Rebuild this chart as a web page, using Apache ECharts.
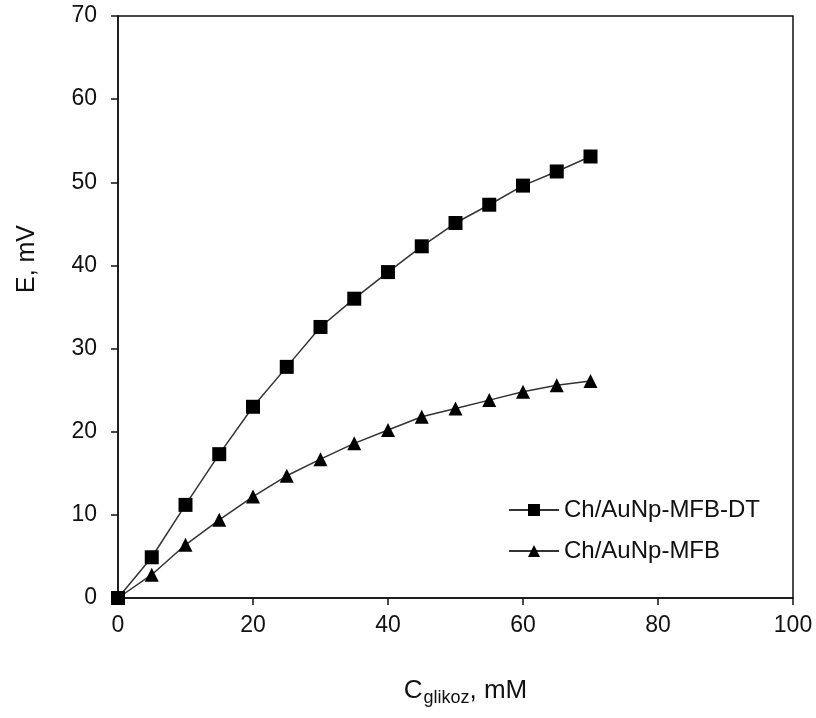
<!DOCTYPE html>
<html>
<head>
<meta charset="utf-8">
<script src="https://cdn.jsdelivr.net/npm/echarts@6/dist/echarts.min.js"></script>
<style>html,body{margin:0;padding:0;background:#fff}#c{width:816px;height:718px}</style>
</head>
<body>
<div id="c"></div>
<script>
const concentrations = [0, 5, 10, 15, 20, 25, 30, 35, 40, 45, 50, 55, 60, 65, 70];
const seriesDT = [0, 4.9, 11.2, 17.3, 23.0, 27.8, 32.6, 36.0, 39.2, 42.3, 45.1, 47.3, 49.6, 51.3, 53.1];
const seriesMFB = [0, 2.8, 6.4, 9.4, 12.2, 14.7, 16.7, 18.6, 20.2, 21.8, 22.8, 23.8, 24.8, 25.6, 26.1];
const nameDT = 'Ch/AuNp-MFB-DT';
const nameMFB = 'Ch/AuNp-MFB';

const font = '"Liberation Sans", Arial, sans-serif';
const pair = (xs, ys) => xs.map((x, i) => [x, ys[i]]);

const chart = echarts.init(document.getElementById('c'), null, {renderer: 'canvas'});
chart.setOption({
  animation: false,
  backgroundColor: '#fff',
  textStyle: {fontFamily: font},
  grid: {left: 118, right: 23, top: 16, bottom: 120, show: true, borderColor: '#111', borderWidth: 1.5, backgroundColor: 'transparent'},
  legend: {
    orient: 'vertical',
    left: 503,
    top: 493,
    itemWidth: 50,
    itemHeight: 15,
    itemGap: 17,
    textStyle: {fontSize: 24, color: '#111', fontFamily: font},
    data: [nameDT, nameMFB]
  },
  xAxis: {
    type: 'value', min: 0, max: 100, interval: 20,
    axisLine: {show: true, onZero: false, lineStyle: {color: '#111', width: 1.5}},
    axisTick: {show: true, inside: false, length: 7, lineStyle: {color: '#111', width: 1.5}},
    axisLabel: {fontSize: 23, color: '#111', margin: 16, fontFamily: font},
    splitLine: {show: false},
    name: '{a|C}{s|glikoz}{a|, mM}',
    nameLocation: 'middle',
    nameGap: 77,
    nameTextStyle: {
      padding: [0, 0, 0, 20],
      rich: {
        a: {fontSize: 26, color: '#111', fontFamily: font},
        s: {fontSize: 18, color: '#111', fontFamily: font, verticalAlign: 'bottom', padding: [14, 0, 0, 1]}
      }
    }
  },
  yAxis: {
    type: 'value', min: 0, max: 70, interval: 10,
    axisLine: {show: true, onZero: false, lineStyle: {color: '#111', width: 1.5}},
    axisTick: {show: true, inside: false, length: 7, lineStyle: {color: '#111', width: 1.5}},
    axisLabel: {fontSize: 23, color: '#111', margin: 21, fontFamily: font},
    splitLine: {show: false},
    name: 'E, mV',
    nameLocation: 'middle',
    nameGap: 78,
    nameTextStyle: {fontSize: 25, color: '#111', fontFamily: font, padding: [0, 0, 0, 96]}
  },
  series: [
    {
      name: nameDT, type: 'line', data: pair(concentrations, seriesDT),
      symbol: 'rect', symbolSize: 14,
      lineStyle: {color: '#333', width: 1.5},
      itemStyle: {color: '#000'}
    },
    {
      name: nameMFB, type: 'line', data: pair(concentrations, seriesMFB),
      symbol: 'triangle', symbolSize: 14,
      lineStyle: {color: '#333', width: 1.5},
      itemStyle: {color: '#000'}
    }
  ]
});
</script>
</body>
</html>
